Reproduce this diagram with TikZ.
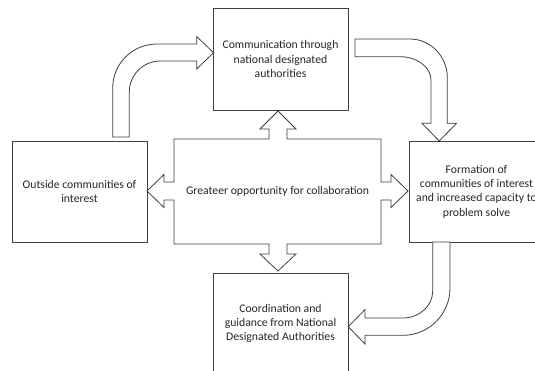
\documentclass[tikz,border=0pt]{standalone}
\usepackage{fontspec}
\setmainfont{Carlito}
\tikzset{
  ink/.style={draw=black!75, line width=0.8pt},
  card/.style={ink, fill=white, rectangle, inner sep=0pt, minimum width=135pt, align=center,
    text=black!85, font=\fontsize{11.7}{14.3}\selectfont},
  blockarrow/.style={ink, fill=white, line join=miter},
  hubtext/.style={inner sep=0pt, text=black!85, font=\fontsize{11.7}{14.3}\selectfont}
}
\begin{document}
\begin{tikzpicture}[x=1pt, y=-1pt]
\clip (0,0) rectangle (535,370);
\fill[white] (0,0) rectangle (535,370);

% boxes
\node[card, minimum height=102pt] (top) at (280.5,59) {Communication through\\national designated\\authorities};
\node[card, minimum height=101pt] (left) at (79.5,191.5) {Outside communities of\\interest};
\node[card, minimum height=101pt] (right) at (476.5,191.5) {Formation of\\communities of interest\\and increased capacity to\\problem solve};
\node[card, minimum height=101pt] (bottom) at (280.5,323.5) {Coordination and\\guidance from National\\Designated Authorities};

% central four-way arrow
\draw[blockarrow] (174,139) -- (269,139) -- (269,129) -- (260,129) -- (278,111) -- (296,129) -- (287,129) -- (287,139)
  -- (381,139) -- (381,182) -- (391,182) -- (391,174.5) -- (408,191) -- (391,207.5) -- (391,200) -- (381,200)
  -- (381,244) -- (287,244) -- (287,254) -- (296,254) -- (278,271) -- (260,254) -- (269,254) -- (269,244)
  -- (174,244) -- (174,200) -- (164,200) -- (164,207.5) -- (147,191) -- (164,174.5) -- (164,182) -- (174,182) -- cycle;
\node[hubtext] (hub) at (277.5,191) {Greateer opportunity for collaboration};

% curved arrow: left -> top
\draw[blockarrow] (112.7,137) -- (112.7,88) .. controls (112.7,63.5) and (132.5,44) .. (157,44) -- (196.7,44)
  -- (196.7,36.5) -- (213.5,52.7) -- (196.7,69) -- (196.7,61) -- (160.3,61)
  .. controls (143.2,61) and (129.3,74.9) .. (129.3,92) -- (129.3,137) -- cycle;

% curved arrow: top -> right
\draw[blockarrow] (355,39) -- (410,39) .. controls (430.6,39) and (447.3,56.5) .. (447.3,77.5) -- (447.3,123.3)
  -- (456.5,123.3) -- (439.2,141) -- (422,123.3) -- (431,123.3) -- (431,80)
  .. controls (431,67.1) and (417.1,56.7) .. (400,56.7) -- (355,56.7) -- cycle;

% curved arrow: right -> bottom
\draw[blockarrow] (432.7,242) -- (450,242) -- (450,288) .. controls (450,314.1) and (429,335.3) .. (403,335.3)
  -- (365,335.3) -- (365,344) -- (348.3,326.7) -- (365,309.5) -- (365,318) -- (403,318)
  .. controls (419.4,318) and (432.7,305.9) .. (432.7,291) -- cycle;
\end{tikzpicture}
\end{document}
